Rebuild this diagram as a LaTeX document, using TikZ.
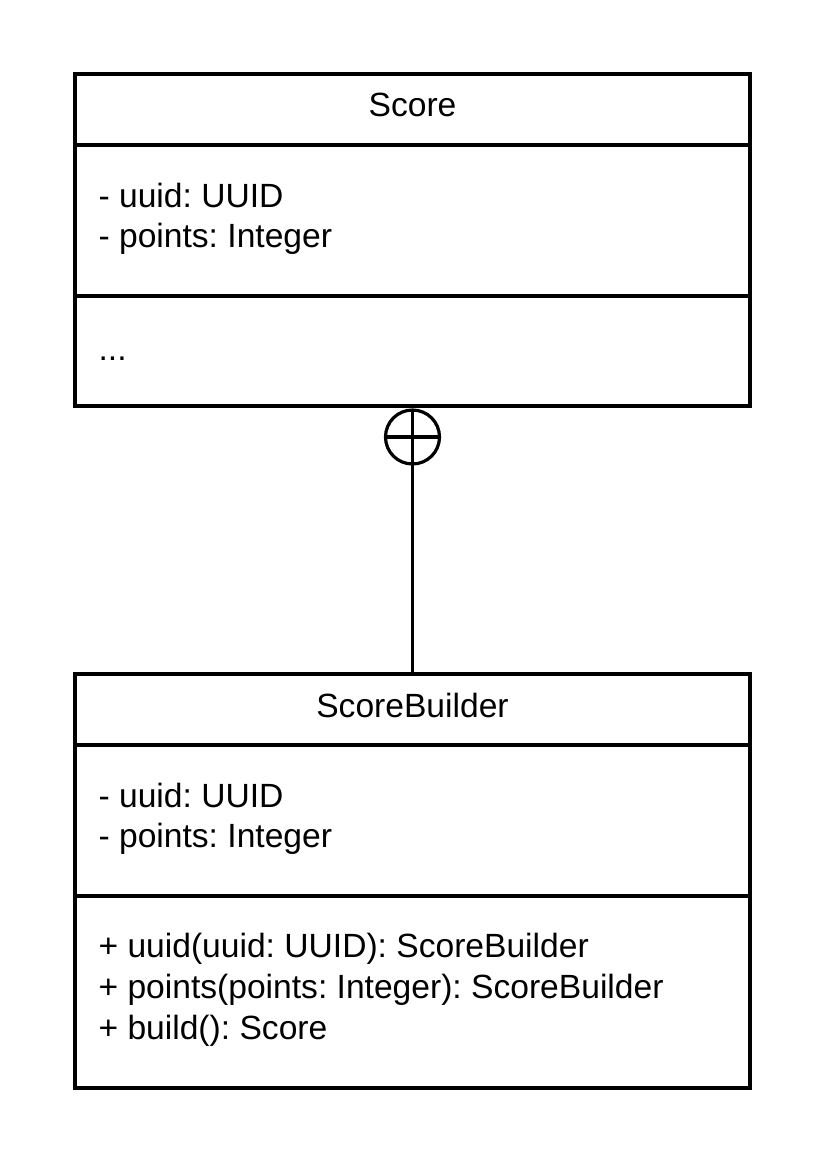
\documentclass[tikz,border=0pt]{standalone}
\usepackage{fontspec}
\setmainfont{Liberation Sans}
\begin{document}
\frenchspacing
\begin{tikzpicture}[x=0.5pt,y=-0.5pt,
  line width=1.6pt,
  classbox/.style={draw, rectangle, inner sep=0pt, outer sep=0pt, minimum width=337.5pt},
  lbl/.style={anchor=base west, inner sep=0pt, font=\fontsize{16.8pt}{20pt}\selectfont},
  ttl/.style={anchor=base, inner sep=0pt, font=\fontsize{16.8pt}{20pt}\selectfont},
  nest/.style={draw, circle, inner sep=0pt, outer sep=0pt, minimum size=27pt}]
\useasboundingbox (0,0) rectangle (825,1164);
% Score
\node[classbox, minimum height=166pt] (score) at (412.5,240) {};
\draw (75,145) -- (750,145);
\draw (75,296) -- (750,296);
\node[ttl] (scoret) at (412.5,116) {Score};
\node[lbl] (scorea1) at (97,207) {- uuid: UUID};
\node[lbl] (scorea2) at (97,247) {- points: Integer};
\node[lbl] (scorem) at (97,360) {...};
% ScoreBuilder
\node[classbox, minimum height=207pt] (builder) at (412.5,881) {};
\draw (75,745) -- (750,745);
\draw (75,896) -- (750,896);
\node[ttl] (buildert) at (412.5,717) {ScoreBuilder};
\node[lbl] (buildera1) at (97,807) {- uuid: UUID};
\node[lbl] (buildera2) at (97,847) {- points: Integer};
\node[lbl] (builderm1) at (97,957) {+ uuid(uuid: UUID): ScoreBuilder};
\node[lbl] (builderm2) at (97,998) {+ points(points: Integer): ScoreBuilder};
\node[lbl] (builderm3) at (97,1039) {+ build(): Score};
% nesting connector
\node[nest] (cross) at (412.5,437) {};
\draw (cross.west) -- (cross.east);
\draw (cross.north) -- (cross.south);
\draw (cross.south) -- (builder.north);
\end{tikzpicture}
\end{document}
